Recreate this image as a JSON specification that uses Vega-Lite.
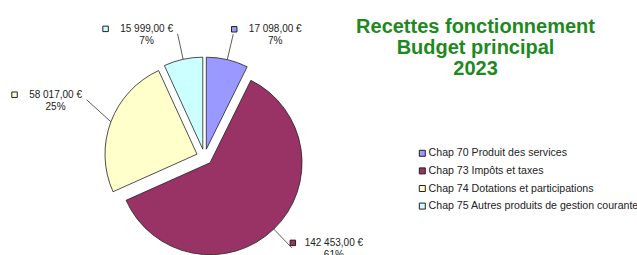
{
  "$schema": "https://vega.github.io/schema/vega-lite/v6.json",
  "width": 637,
  "height": 255,
  "padding": 0,
  "autosize": "none",
  "background": "white",
  "config": {
    "view": {"stroke": null},
    "font": "Liberation Sans",
    "locale": {
      "number": {"decimal": ",", "thousands": " ", "grouping": [3], "currency": ["", " €"]}
    }
  },
  "data": {
    "values": [
      {"chap": "Chap 70 Produit des services", "value": 17098},
      {"chap": "Chap 73 Impôts et taxes", "value": 142453},
      {"chap": "Chap 74 Dotations et participations", "value": 58017},
      {"chap": "Chap 75 Autres produits de gestion courante", "value": 15999}
    ]
  },
  "transform": [
    {"joinaggregate": [{"op": "sum", "field": "value", "as": "total"}]},
    {"window": [{"op": "sum", "field": "value", "as": "cum"}], "sort": [{"field": "chap", "order": "ascending"}], "frame": [null, 0]},
    {"calculate": "datum.cum - datum.value", "as": "start"},
    {"calculate": "datum.value / datum.total", "as": "pct"},
    {"calculate": "datum.start / datum.total", "as": "f0"},
    {"calculate": "datum.cum / datum.total", "as": "f1"},
    {"calculate": "(datum.cum - datum.value / 2) / datum.total * 2 * PI", "as": "mid"},
    {"calculate": "0.087 * sin(datum.mid)", "as": "ex"},
    {"calculate": "0.087 * cos(datum.mid)", "as": "ey"},
    {"calculate": "1.087 * sin(datum.mid)", "as": "ax"},
    {"calculate": "1.087 * cos(datum.mid)", "as": "ay"},
    {"calculate": "1.37 * sin(datum.mid)", "as": "lx"},
    {"calculate": "1.37 * cos(datum.mid) + (abs(sin(datum.mid)) > 0.9 ? 0.14 : 0)", "as": "ly"},
    {"calculate": "datum.lx + (sin(datum.mid) >= 0 ? 0.4565 : -0.337)", "as": "tx"}
  ],
  "layer": [
    {
      "mark": {"type": "arc", "radius": 92, "stroke": "#222222", "strokeWidth": 0.8},
      "encoding": {
        "x": {"field": "ex", "type": "quantitative", "scale": {"domain": [-2.2228, 4.7011], "nice": false, "zero": false}, "axis": null},
        "y": {"field": "ey", "type": "quantitative", "scale": {"domain": [-1.0652, 1.7065], "nice": false, "zero": false}, "axis": null},
        "theta": {"field": "f0", "type": "quantitative", "stack": null, "scale": {"domain": [0, 1], "nice": false, "zero": false}},
        "theta2": {"field": "f1"},
        "color": {
          "field": "chap",
          "type": "nominal",
          "scale": {"range": ["#9999FF", "#993366", "#FFFFCC", "#CCFFFF"]},
          "legend": {
            "title": null,
            "orient": "none",
            "legendX": 417,
            "legendY": 148,
            "symbolType": "square",
            "symbolSize": 36,
            "symbolStrokeColor": "#222222",
            "symbolStrokeWidth": 1,
            "labelFont": "Liberation Sans",
            "labelFontSize": 10.6,
            "labelColor": "#222222",
            "labelLimit": 300,
            "labelOffset": 1,
            "rowPadding": 6.6,
            "symbolOffset": 0
          }
        }
      }
    },
    {
      "mark": {"type": "rule", "stroke": "#333333", "strokeWidth": 0.8},
      "encoding": {
        "x": {"field": "ax", "type": "quantitative"},
        "y": {"field": "ay", "type": "quantitative"},
        "x2": {"field": "lx"},
        "y2": {"field": "ly"}
      }
    },
    {
      "mark": {"type": "text", "fontSize": 10, "color": "#222222", "align": "center", "baseline": "middle", "dy": -5},
      "encoding": {
        "x": {"field": "tx", "type": "quantitative"},
        "y": {"field": "ly", "type": "quantitative"},
        "text": {"field": "value", "type": "quantitative", "format": "$,.2f"}
      }
    },
    {
      "mark": {"type": "text", "fontSize": 10, "color": "#222222", "align": "center", "baseline": "middle", "dy": 7},
      "encoding": {
        "x": {"field": "tx", "type": "quantitative"},
        "y": {"field": "ly", "type": "quantitative"},
        "text": {"field": "pct", "type": "quantitative", "format": ".0%"}
      }
    },
    {
      "mark": {"type": "point", "shape": "square", "filled": true, "size": 30, "stroke": "#222222", "strokeWidth": 1, "opacity": 1, "xOffset": -41, "yOffset": -5},
      "encoding": {
        "x": {"field": "tx", "type": "quantitative"},
        "y": {"field": "ly", "type": "quantitative"},
        "color": {"field": "chap", "type": "nominal"}
      }
    },
    {
      "data": {"values": [{"t": ["Recettes fonctionnement", "Budget principal", "2023"], "px": 2.946, "py": 1.3478}]},
      "transform": [],
      "mark": {"type": "text", "fontSize": 20, "fontWeight": "bold", "color": "#1E8A1E", "align": "center", "baseline": "alphabetic", "lineHeight": 21},
      "encoding": {
        "x": {"field": "px", "type": "quantitative"},
        "y": {"field": "py", "type": "quantitative"},
        "text": {"field": "t"}
      }
    }
  ]
}
